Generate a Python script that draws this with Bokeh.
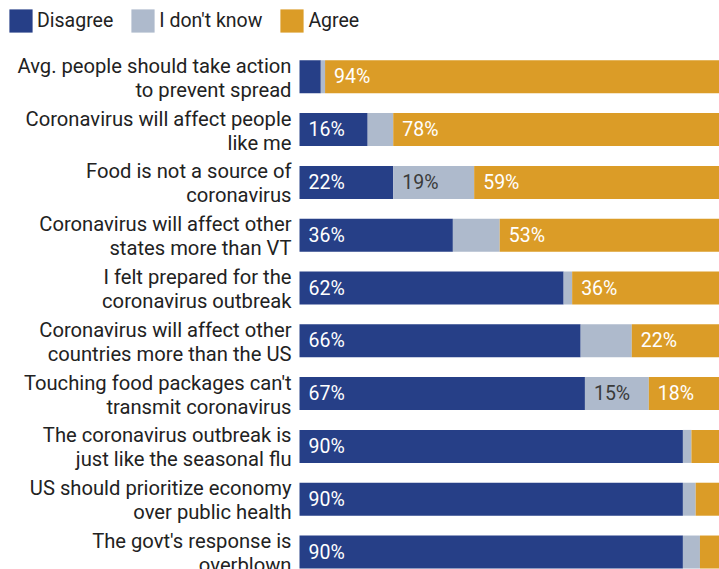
from bokeh.plotting import figure
from bokeh.models import Range1d, ColumnDataSource
from bokeh.core.properties import value
from bokeh.embed import file_html
from bokeh.resources import INLINE

statements = [
    "Avg. people should take action\nto prevent spread",
    "Coronavirus will affect people\nlike me",
    "Food is not a source of\ncoronavirus",
    "Coronavirus will affect other\nstates more than VT",
    "I felt prepared for the\ncoronavirus outbreak",
    "Coronavirus will affect other\ncountries more than the US",
    "Touching food packages can't\ntransmit coronavirus",
    "The coronavirus outbreak is\njust like the seasonal flu",
    "US should prioritize economy\nover public health",
    "The govt's response is\noverblown",
]
disagree = [5, 16, 22, 36, 62, 66, 67, 90, 90, 90]
dont_know = [1, 6, 19, 11, 2, 12, 15, 2, 3, 4]
agree = [94, 78, 59, 53, 36, 22, 18, 8, 7, 6]
series_names = ["Disagree", "I don't know", "Agree"]
colors = ["#263f87", "#aebacc", "#db9c27"]
label_colors = ["#ffffff", "#3a3a3a", "#ffffff"]
FONT = "Roboto"

ys = list(range(len(statements)))
src = ColumnDataSource(dict(y=ys, dis=disagree, unk=dont_know, agr=agree, stmt=statements))

p = figure(width=719, height=569, output_backend="svg", toolbar_location=None,
           x_range=Range1d(-70.19, 98.59), y_range=Range1d(9.331, -1.445),
           x_axis_location=None, y_axis_location=None, min_border=0)
p.grid.visible = False
p.outline_line_color = None
p.background_fill_color = "white"

p.hbar_stack(["dis", "unk", "agr"], y="y", height=0.625, color=colors, source=src,
             legend_label=series_names, line_color=None)

# statement labels
p.text(x=0, y="y", text="stmt", source=src, x_offset=-8, y_offset=1, text_align="right",
       text_baseline="middle", text_font=value(FONT), text_font_size="20.2px",
       text_color="#222222", text_line_height=1.0)

# percent labels
lx, ly, lt, lc = [], [], [], []
for i in ys:
    vals = [disagree[i], dont_know[i], agree[i]]
    left = 0
    for k, v in enumerate(vals):
        if v >= 13:
            lx.append(left)
            ly.append(i)
            lt.append(f"{v}%")
            lc.append(label_colors[k])
        left += v
lsrc = ColumnDataSource(dict(x=lx, y=ly, t=lt, c=lc))
p.text(x="x", y="y", text="t", text_color="c", source=lsrc, x_offset=9,
       text_align="left", text_baseline="middle", text_font=value(FONT),
       text_font_size="19.5px")

lg = p.legend[0]
lg.orientation = "horizontal"
lg.location = "top_left"
lg.margin = 6
lg.padding = 9
lg.spacing = 15
lg.glyph_width = 29
lg.glyph_height = 29
lg.label_standoff = 2
lg.label_text_font = FONT
lg.label_text_font_size = "19.5px"
lg.label_text_color = "#222222"
lg.border_line_color = None
lg.background_fill_alpha = 0

open("out.html", "w").write(file_html(p, INLINE))
